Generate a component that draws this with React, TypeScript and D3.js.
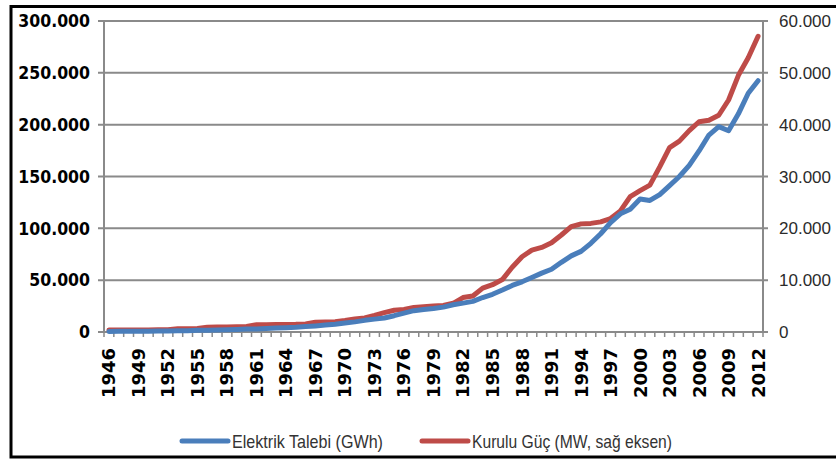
import React from "react";
import * as d3 from "d3";

// categories (years) and series
const years: number[] = d3.range(1946, 2013);

// Elektrik Talebi (GWh) - left axis
const demand: number[] = [
  594, 656, 721, 751, 790, 887, 1011, 1147, 1277, 1580,
  1807, 2005, 2223, 2527, 2815, 3000, 3311, 3807, 4148, 4578,
  5247, 5876, 6698, 7537, 8623, 9781, 11242, 12425, 13477, 15719,
  18273, 20565, 21748, 22702, 23975, 26289, 27864, 29569, 33264, 36353,
  40471, 44925, 48430, 52602, 56812, 60499, 67217, 73432, 77783, 85552,
  94789, 105517, 114023, 118485, 128276, 126871, 132553, 141151, 150018, 160794,
  174637, 190000, 198085, 194079, 210434, 230306, 242370,
];

// Kurulu Güç (MW) - right axis
const capacity: number[] = [
  380, 390, 395, 400, 408, 434, 450, 620, 640, 660,
  900, 950, 980, 1000, 1050, 1400, 1420, 1440, 1460, 1480,
  1550, 1900, 1950, 2000, 2235, 2530, 2700, 3190, 3730, 4187,
  4365, 4730, 4870, 5000, 5119, 5538, 6639, 6935, 8462, 9122,
  10115, 12495, 14521, 15808, 16318, 17207, 18716, 20338, 20860, 20954,
  21249, 21892, 23354, 26119, 27264, 28332, 31846, 35587, 36824, 38844,
  40565, 40836, 41817, 44761, 49524, 52911, 57059,
];

const leftTicks = [0, 50000, 100000, 150000, 200000, 250000, 300000];
const rightTicks = [0, 10000, 20000, 30000, 40000, 50000, 60000];
const seriesNames = ["Elektrik Talebi (GWh)", "Kurulu Güç (MW, sağ eksen)"];
const colors = ["#4a7ebb", "#be4b48"];

const fmt = (v: number) => (v === 0 ? "0" : d3.format(",")(v).replace(/,/g, "."));

export default function App() {
  const left = 104,
    right = 763,
    top = 21,
    bottom = 332;

  const x = d3.scaleBand<number>().domain(years).range([left, right]).padding(0);
  const cx = (yr: number) => (x(yr) as number) + x.bandwidth() / 2;
  const yL = d3.scaleLinear().domain([0, 300000]).range([bottom, top]);
  const yR = d3.scaleLinear().domain([0, 60000]).range([bottom, top]);

  const lineL = d3
    .line<number>()
    .x((_, i) => cx(years[i]))
    .y((d) => yL(d));
  const lineR = d3
    .line<number>()
    .x((_, i) => cx(years[i]))
    .y((d) => yR(d));

  const gridColor = "#8a8a8a";
  const boundaries = years.map((yr) => x(yr) as number).concat([right]);

  // legend layout: swatch start, text start, text length
  const legend = [
    { x0: 182, tx: 232, len: 151 },
    { x0: 422, tx: 472, len: 200 },
  ];

  return (
    <svg
      width={836}
      height={460}
      style={{ position: "absolute", left: 0, top: 0, background: "#fff" }}
    >
      <rect x={11} y={6.5} width={900} height={450.5} fill="none" stroke="#000" strokeWidth={3} />

      {/* gridlines */}
      {leftTicks.map((t) => (
        <line
          key={t}
          x1={left - 6}
          x2={right + 5}
          y1={yL(t)}
          y2={yL(t)}
          stroke={gridColor}
          strokeWidth={2}
        />
      ))}
      <line x1={left} x2={left} y1={top} y2={bottom} stroke={gridColor} strokeWidth={2} />
      <line x1={right} x2={right} y1={top} y2={bottom} stroke={gridColor} strokeWidth={2} />
      {boundaries.map((b, i) => (
        <line key={i} x1={b} x2={b} y1={bottom} y2={bottom + 5} stroke={gridColor} strokeWidth={1.5} />
      ))}

      {/* left axis labels */}
      {leftTicks.map((t) => (
        <text
          key={t}
          x={90}
          y={yL(t)}
          dy="0.36em"
          textAnchor="end"
          fontFamily="'DejaVu Sans Condensed', 'DejaVu Sans'"
          fontWeight="bold"
          fontSize={17.5}
          fill="#000"
        >
          {fmt(t)}
        </text>
      ))}

      {/* right axis labels */}
      {rightTicks.map((t) => (
        <text
          key={t}
          x={779}
          y={yR(t)}
          dy="0.36em"
          textAnchor="start"
          fontFamily="'Liberation Sans', Arial"
          fontSize={17}
          fill="#2b2b2b"
        >
          {fmt(t)}
        </text>
      ))}

      {/* x labels */}
      {years
        .filter((_, i) => i % 3 === 0)
        .map((yr) => (
          <text
            key={yr}
            transform={`translate(${cx(yr)},348) rotate(-90)`}
            dy="0.36em"
            textAnchor="end"
            fontFamily="'DejaVu Sans'"
            fontWeight="bold"
            fontSize={18}
            fill="#000"
          >
            {yr}
          </text>
        ))}

      {/* series */}
      <path
        d={lineR(capacity) || ""}
        fill="none"
        stroke={colors[1]}
        strokeWidth={5}
        strokeLinejoin="round"
        strokeLinecap="round"
      />
      <path
        d={lineL(demand) || ""}
        fill="none"
        stroke={colors[0]}
        strokeWidth={5}
        strokeLinejoin="round"
        strokeLinecap="round"
      />

      {/* legend */}
      {legend.map((p, i) => (
        <g key={i}>
          <line
            x1={p.x0}
            x2={p.x0 + 46}
            y1={441}
            y2={441}
            stroke={colors[i]}
            strokeWidth={5}
            strokeLinecap="round"
          />
          <text
            x={p.tx}
            y={441}
            dy="0.36em"
            fontFamily="'Liberation Sans'"
            fontSize={19}
            textLength={p.len}
            lengthAdjust="spacingAndGlyphs"
            fill="#333"
          >
            {seriesNames[i]}
          </text>
        </g>
      ))}
    </svg>
  );
}
